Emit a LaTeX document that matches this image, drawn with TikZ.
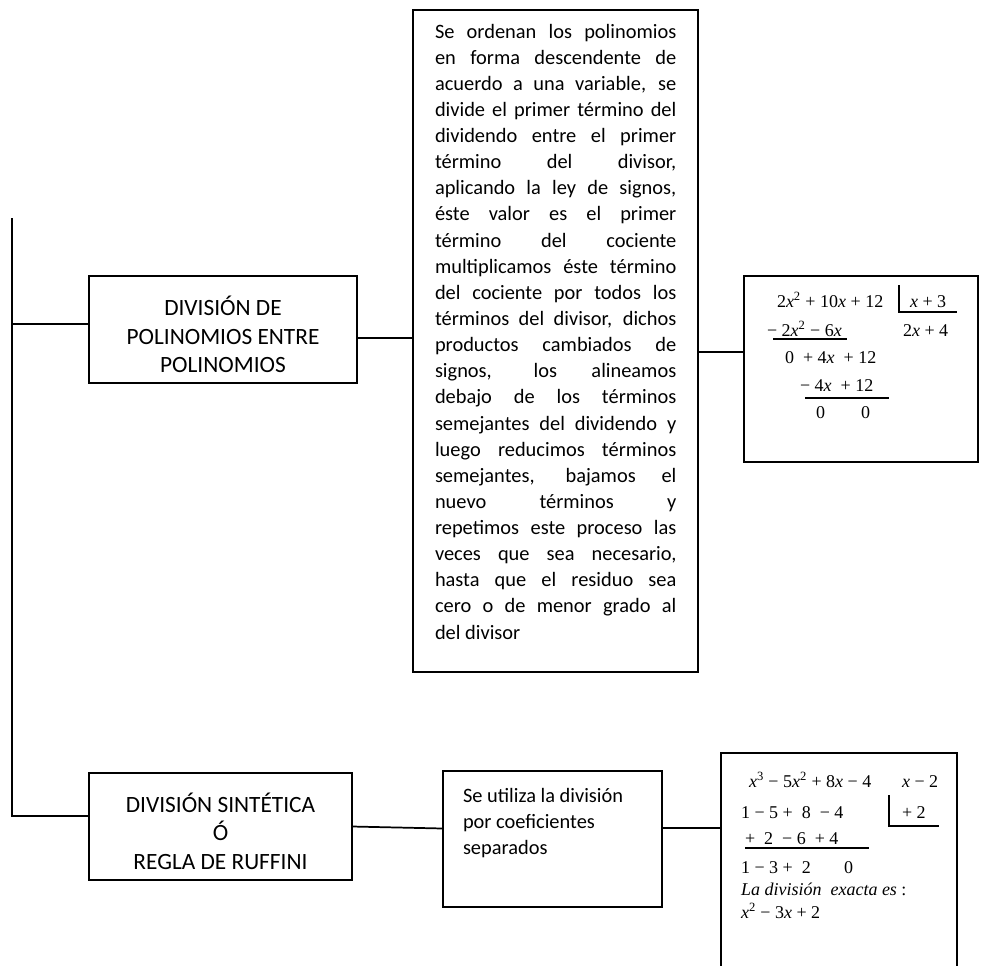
\documentclass[tikz,border=0pt]{standalone}
\usepackage{fontspec}
\setmainfont{Carlito}
\newfontfamily\tnr{Liberation Serif}
\newcommand{\vx}{\textit{x}}
\newcommand{\sq}{\textsuperscript{2}}
\newcommand{\cb}{\textsuperscript{3}}
\newcommand{\plainsp}{\spaceskip=0pt\xspaceskip=0pt}
\newcommand{\jl}[1]{\makebox[181pt][s]{\plainsp #1}}
\begin{document}
\begin{tikzpicture}[x=0.75pt, y=-0.75pt,
    every node/.style={inner sep=0pt, outer sep=0pt},
    boxstyle/.style={rectangle, draw=black, line width=1.3pt},
    boxtext/.style={align=flush center, text width=195pt,
                    font=\fontsize{17.5}{21.5}\selectfont},
    link/.style={line width=1.3pt},
    bodytext/.style={anchor=base west, font=\fontsize{15.3}{19.6}\selectfont},
    mathtext/.style={anchor=base west, font=\tnr\fontsize{13.5}{16}\selectfont},
    rule/.style={line width=0.9pt}
]
  \useasboundingbox (0,0) rectangle (992,965);
  \clip (0,0) rectangle (992,965);

  % upper branch
  \node[boxstyle, minimum width=201pt, minimum height=80.25pt] (polybox) at (223,329.5) {};
  \node[boxtext] (polytext) at (223,334.5)
    {\plainsp DIVISIÓN DE\par POLINOMIOS ENTRE\par POLINOMIOS};
  \node[boxstyle, minimum width=213.75pt, minimum height=496.5pt] (stepsbox) at (555.5,341) {};
  \node[boxstyle, minimum width=175.5pt, minimum height=139.5pt] (longex) at (861,369) {};

  \node[bodytext, text width=181pt, align=justify] (stepstext) at (435,38) {%
    \jl{Se ordenan los polinomios}\\
    \jl{en forma descendente de}\\
    \jl{acuerdo a una variable, se}\\
    \jl{divide el primer término del}\\
    \jl{dividendo entre el primer}\\
    \jl{término del divisor,}\\
    \jl{aplicando la ley de signos,}\\
    \jl{éste valor es el primer}\\
    \jl{término del cociente}\\
    \jl{multiplicamos éste término}\\
    \jl{del cociente por todos los}\\
    \jl{términos del divisor, dichos}\\
    \jl{productos cambiados de}\\
    \jl{signos, los alineamos}\\
    \jl{debajo de los términos}\\
    \jl{semejantes del dividendo y}\\
    \jl{luego reducimos términos}\\
    \jl{semejantes, bajamos el}\\
    \jl{nuevo términos y}\\
    \jl{repetimos este proceso las}\\
    \jl{veces que sea necesario,}\\
    \jl{hasta que el residuo sea}\\
    \jl{cero o de menor grado al}\\
    \plainsp del divisor};

  % long division example
  \node[mathtext] (ld-a) at (777,307) {2\vx\sq{} + 10\vx{} + 12};
  \node[mathtext] (ld-d) at (910,307) {\vx{} + 3};
  \node[mathtext] (ld-b) at (767,336) {− 2\vx\sq{} − 6\vx};
  \node[mathtext] (ld-q) at (903,336) {2\vx{} + 4};
  \node[mathtext] (ld-c) at (785,363) {0 \ + 4\vx{} \ + 12};
  \node[mathtext] (ld-e) at (800,391) {− 4\vx{} \ + 12};
  \node[mathtext] (ld-f) at (816,418) {0};
  \node[mathtext] (ld-g) at (861,418) {0};
  \draw[rule] (899,285) -- (899,312) -- (957,312);
  \draw[rule] (773,339) -- (847,339);
  \draw[rule] (805,398) -- (889,398);

  % lower branch
  \node[boxstyle, minimum width=197.25pt, minimum height=80.25pt] (ruffbox) at (220.5,826.5) {};
  \node[boxtext] (rufftext) at (220.5,831)
    {\plainsp DIVISIÓN SINTÉTICA\par Ó\par REGLA DE RUFFINI};
  \node[boxstyle, minimum width=164.25pt, minimum height=102pt] (coefbox) at (552.5,839) {};
  \node[bodytext, text width=150pt, align=flush left] (coeftext) at (463,802)
    {\plainsp Se utiliza la división\\por coeficientes\\separados};
  \node[boxstyle, minimum width=177pt, minimum height=177.75pt] (synex) at (839,871.5) {};

  % synthetic division example
  \node[mathtext] (sd-a) at (749,787) {\vx\cb{} − 5\vx\sq{} + 8\vx{} − 4};
  \node[mathtext] (sd-d) at (902,787) {\vx{} − 2};
  \node[mathtext] (sd-b) at (741,818) {1 − 5 + \ 8 \ − 4};
  \node[mathtext] (sd-r) at (902,818) {+ 2};
  \node[mathtext] (sd-c) at (745,844) {+ \ 2 \ − 6 \ + 4};
  \node[mathtext] (sd-e) at (741,873) {1 − 3 + \ 2};
  \node[mathtext] (sd-z) at (844,873) {0};
  \node[mathtext] (sd-t) at (741,895) {\textit{La división \ exacta es} :};
  \node[mathtext] (sd-q) at (741,918) {\vx\sq{} − 3\vx{} + 2};
  \draw[rule] (889,795) -- (889,826) -- (939,826);
  \draw[rule] (745,848) -- (869,848);

  % connectors
  \coordinate (spine-top) at (12,218);
  \coordinate (spine-bot) at (12,816);
  \draw[link] (spine-top) -- (spine-bot) -- (spine-bot -| ruffbox.west);
  \draw[link] ([yshift=4pt]polybox.west) -- ([yshift=4pt]polybox.west -| spine-top);
  \draw[link] ([yshift=-6.4pt]polybox.east) -- ([yshift=-6.4pt]polybox.east -| stepsbox.west);
  \draw[link] ([yshift=-8.25pt]stepsbox.east) -- ([yshift=-8.25pt]stepsbox.east -| longex.west);
  \draw[link] (ruffbox.east) -- ([yshift=-1.5pt]ruffbox.east -| coefbox.west);
  \draw[link] ([yshift=8.25pt]coefbox.east) -- ([yshift=8.25pt]coefbox.east -| synex.west);

\end{tikzpicture}
\end{document}
